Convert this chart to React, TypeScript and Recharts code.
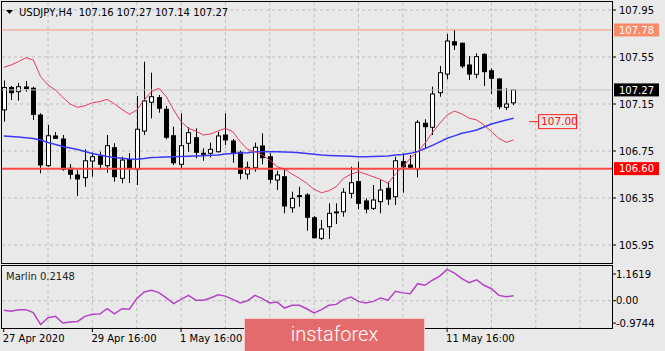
import React from 'react';
import { ComposedChart, Bar, Line, XAxis, YAxis, CartesianGrid, ReferenceLine } from 'recharts';

const opens = [107.10, 107.29, 107.255, 107.295, 107.284, 107.056, 106.625, 106.878, 106.852, 106.603,
  106.546, 106.523, 106.665, 106.707, 106.625, 106.778, 106.518, 106.679, 106.594, 106.920,
  107.165, 107.204, 107.105, 106.880, 106.637, 106.816, 106.863, 106.731, 106.731, 106.744,
  106.886, 106.835, 106.739, 106.554, 106.608, 106.793, 106.701, 106.503, 106.531, 106.267,
  106.370, 106.376, 106.182, 106.007, 106.106, 106.228, 106.233, 106.390, 106.489, 106.325,
  106.262, 106.319, 106.433, 106.361, 106.659, 106.631, 106.597, 106.986, 106.952, 107.246,
  107.405, 107.680, 107.667, 107.482, 107.403, 107.573, 107.433, 107.363, 107.122, 107.16];
const highs = [107.35, 107.303, 107.329, 107.346, 107.297, 107.071, 106.971, 106.912, 106.886, 106.639,
  106.588, 106.764, 106.736, 106.744, 106.886, 106.816, 106.701, 106.733, 107.218, 107.510,
  107.416, 107.227, 107.133, 106.957, 107.071, 106.952, 106.943, 106.773, 106.821, 106.914,
  107.071, 106.852, 106.753, 106.659, 106.821, 106.901, 106.731, 106.582, 106.603, 106.404,
  106.446, 106.390, 106.197, 106.163, 106.305, 106.305, 106.433, 106.616, 106.659, 106.348,
  106.461, 106.503, 106.489, 106.701, 106.731, 106.716, 107.014, 107.020, 107.297, 107.474,
  107.746, 107.78, 107.672, 107.558, 107.581, 107.581, 107.454, 107.369, 107.284, 107.27];
const lows = [107.00, 107.184, 107.178, 107.255, 107.014, 106.560, 106.616, 106.852, 106.582, 106.509,
  106.367, 106.446, 106.531, 106.588, 106.565, 106.489, 106.475, 106.478, 106.461, 106.886,
  107.028, 107.076, 106.850, 106.631, 106.603, 106.744, 106.688, 106.667, 106.696, 106.736,
  106.801, 106.650, 106.509, 106.509, 106.574, 106.637, 106.475, 106.418, 106.220, 106.225,
  106.276, 106.072, 106.007, 105.993, 106.001, 106.129, 106.191, 106.348, 106.254, 106.220,
  106.248, 106.220, 106.290, 106.290, 106.395, 106.603, 106.526, 106.773, 106.886, 107.212,
  107.360, 107.610, 107.454, 107.354, 107.369, 107.303, 107.235, 107.105, 107.099, 107.14];
const closes = [107.29, 107.246, 107.297, 107.282, 107.062, 106.631, 106.880, 106.858, 106.594, 106.552,
  106.512, 106.667, 106.701, 106.637, 106.795, 106.531, 106.673, 106.603, 106.935, 107.176,
  107.212, 107.114, 106.867, 106.650, 106.795, 106.906, 106.739, 106.726, 106.764, 106.878,
  106.844, 106.736, 106.560, 106.611, 106.782, 106.693, 106.509, 106.546, 106.282, 106.347,
  106.366, 106.186, 106.012, 106.086, 106.220, 106.232, 106.399, 106.480, 106.305, 106.256,
  106.333, 106.418, 106.341, 106.667, 106.616, 106.611, 106.994, 106.957, 107.235, 107.416,
  107.686, 107.652, 107.473, 107.405, 107.553, 107.425, 107.369, 107.127, 107.150, 107.27];
const maFast = [107.462, 107.482, 107.510, 107.544, 107.525, 107.382, 107.312, 107.269, 107.207, 107.150,
  107.122, 107.135, 107.161, 107.170, 107.190, 107.150, 107.105, 107.062, 107.099, 107.184,
  107.255, 107.284, 107.212, 107.099, 106.999, 106.943, 106.920, 106.886, 106.895, 106.920,
  106.943, 106.914, 106.829, 106.764, 106.744, 106.716, 106.673, 106.616, 106.597, 106.554,
  106.518, 106.475, 106.424, 106.395, 106.412, 106.446, 106.518, 106.554, 106.574, 106.554,
  106.531, 106.509, 106.475, 106.554, 106.616, 106.688, 106.744, 106.816, 106.906, 106.986,
  107.056, 107.090, 107.065, 107.028, 107.014, 106.971, 106.914, 106.858, 106.824, 106.844];
const maSlow = [106.878, 106.873, 106.869, 106.863, 106.856, 106.844, 106.822, 106.805, 106.788, 106.776,
  106.763, 106.746, 106.729, 106.716, 106.703, 106.695, 106.688, 106.682, 106.680, 106.686,
  106.695, 106.696, 106.699, 106.701, 106.703, 106.705, 106.707, 106.710, 106.713, 106.716,
  106.724, 106.729, 106.733, 106.736, 106.743, 106.744, 106.744, 106.744, 106.742, 106.739,
  106.736, 106.729, 106.722, 106.716, 106.712, 106.709, 106.707, 106.705, 106.701, 106.701,
  106.703, 106.706, 106.707, 106.716, 106.720, 106.730, 106.746, 106.771, 106.798, 106.828,
  106.858, 106.879, 106.901, 106.914, 106.929, 106.954, 106.980, 106.997, 107.014, 107.028];
const marlin = [-0.42, -0.46, -0.39, -0.39, -0.52, -1.04, -0.74, -0.68, -0.97, -0.93,
  -0.90, -0.68, -0.59, -0.58, -0.35, -0.57, -0.35, -0.37, 0.09, 0.38,
  0.45, 0.35, 0.12, -0.13, 0.06, 0.23, 0.02, 0.02, 0.12, 0.26,
  0.20, 0.06, -0.10, 0.0, 0.23, 0.09, -0.10, -0.06, -0.32, -0.20,
  -0.20, -0.35, -0.53, -0.39, -0.20, -0.16, 0.06, 0.16, -0.03, -0.10,
  -0.03, 0.12, 0.02, 0.41, 0.34, 0.30, 0.74, 0.67, 0.89, 1.07,
  1.36, 1.20, 0.96, 0.78, 0.91, 0.67, 0.52, 0.23, 0.17, 0.2148];

const priceTicks = [105.95, 106.35, 106.75, 107.15, 107.55, 107.95];
const marlinTicks = [-0.9744, 0, 1.1619];
const gridIdx = [6, 12, 18, 24, 30, 36, 42, 48, 54, 60, 66, 72, 78];
const timeTickIdx = [0, 12, 24, 60];
const timeLabels = ['27 Apr 2020', '29 Apr 16:00', '1 May 16:00', '11 May 16:00'];
const levelHigh = 107.78;
const levelLow = 106.60;
const bidPrice = 107.27;
const targetPrice = 107.00;
const targetFrom = 71.08;
const targetTo = 72.3;
const symbolTitle = 'USDJPY,H4  107.16 107.27 107.14 107.27';
const marlinTitle = 'Marlin 0.2148';

const xDomain: [number, number] = [-0.23, 82.31];
const FONT = 'DejaVu Sans';

const rows = opens.map((o, i) => ({
  i,
  open: o,
  high: highs[i],
  low: lows[i],
  close: closes[i],
  range: [lows[i], highs[i]],
  maFast: maFast[i],
  maSlow: maSlow[i],
  marlin: marlin[i],
}));

const Candle = (props: any) => {
  const { x, y, width, height, payload } = props;
  if (x == null || y == null || !payload) return null;
  const cx = Math.round(x + width / 2) + 0.5;
  const top = Math.min(y, y + height);
  const h = Math.abs(height);
  const span = payload.high - payload.low;
  const k = span > 0 ? h / span : 0;
  const yO = top + (payload.high - payload.open) * k;
  const yC = top + (payload.high - payload.close) * k;
  const bTop = Math.min(yO, yC);
  const bH = Math.max(Math.abs(yO - yC), 1);
  const up = payload.close >= payload.open;
  return (
    <g>
      <line x1={cx} x2={cx} y1={top} y2={top + h} stroke="#000" strokeWidth={1} />
      <rect x={cx - 2} y={bTop} width={4} height={bH} fill={up ? '#fff' : '#000'} stroke="#000" strokeWidth={1} />
    </g>
  );
};

const levelShape = (lineColor: string, lineWidth: number, tagBg: string, tag: string) => (p: any) => {
  const { x1, x2, y1 } = p;
  if (x1 == null) return null;
  const left = Math.min(x1, x2);
  const right = Math.max(x1, x2);
  return (
    <g>
      <line x1={left} x2={right} y1={y1} y2={y1} stroke={lineColor} strokeWidth={lineWidth} />
      <rect x={right + 2} y={y1 - 6.5} width={45} height={13} fill={tagBg} />
      <text x={right + 7} y={y1 + 3.6} fill="#fff" fontSize={10} fontFamily={FONT}>{tag}</text>
    </g>
  );
};

const calloutShape = (p: any) => {
  const { x1, x2, y1 } = p;
  if (x1 == null) return null;
  const left = Math.min(x1, x2);
  const right = Math.max(x1, x2);
  return (
    <g>
      <line x1={left} x2={right} y1={y1} y2={y1} stroke="#ff2020" strokeWidth={1} />
      <rect x={right + 0.5} y={y1 - 7} width={38} height={14} fill="none" stroke="#ff2020" strokeWidth={1} />
      <text x={right + 3} y={y1 + 3.8} fill="#ff1010" fontSize={10.5} fontFamily={FONT}>{targetPrice.toFixed(2)}</text>
    </g>
  );
};

const TimeTick = (props: any) => {
  const { x, y, payload } = props;
  const idx = timeTickIdx.indexOf(payload.value);
  if (idx < 0) return null;
  return (
    <text x={x - 1} y={y} dy="0.71em" textAnchor="start" fontSize={10} fontFamily={FONT} fill="#000">
      {timeLabels[idx]}
    </text>
  );
};

export default function App() {
  return (
    <div style={{ position: 'absolute', left: 0, top: 0, width: 665, height: 351, background: '#e9e9e9', overflow: 'hidden' }}>
      <div style={{ position: 'absolute', left: 0, top: 0 }}>
        <ComposedChart width={665} height={265} data={rows} margin={{ top: 2, right: 0, bottom: 2, left: 2 }}>
          <CartesianGrid stroke="#bcbcbc" strokeDasharray="3 3" horizontalValues={priceTicks} verticalValues={gridIdx} />
          <XAxis type="number" dataKey="i" domain={xDomain} allowDataOverflow ticks={gridIdx} hide />
          <YAxis
            orientation="right"
            width={53}
            domain={[105.797, 108.018]}
            allowDataOverflow
            ticks={priceTicks}
            interval={0}
            tickFormatter={(v: number) => v.toFixed(2)}
            tickSize={4}
            tickMargin={3}
            axisLine={false}
            tickLine={{ stroke: '#000' }}
            tick={{ fontSize: 10, fill: '#000', fontFamily: FONT }}
          />
          <ReferenceLine y={bidPrice} stroke="#c4c4c4" shape={levelShape('#c4c4c4', 1, '#000', bidPrice.toFixed(2))} />
          <ReferenceLine y={levelHigh} stroke="#f6967c" shape={levelShape('#f6967c', 1, '#fa8a6a', levelHigh.toFixed(2))} />
          <ReferenceLine y={levelLow} stroke="#ff4040" shape={levelShape('#ff4848', 2, '#ff0000', levelLow.toFixed(2))} />
          <Bar dataKey="range" shape={Candle} barSize={5} isAnimationActive={false} />
          <Line type="linear" dataKey="maSlow" stroke="#3a3af5" strokeWidth={1.5} dot={false} isAnimationActive={false} />
          <Line type="linear" dataKey="maFast" stroke="#e63c5e" strokeWidth={1} dot={false} isAnimationActive={false} />
          <ReferenceLine
            segment={[{ x: targetFrom, y: targetPrice }, { x: targetTo, y: targetPrice }]}
            stroke="#ff2020"
            shape={calloutShape}
          />
        </ComposedChart>
      </div>
      <div style={{ position: 'absolute', left: 0, top: 0 }}>
        <ComposedChart width={665} height={351} data={rows} margin={{ top: 266, right: 0, bottom: 3, left: 2 }}>
          <CartesianGrid stroke="#bcbcbc" strokeDasharray="3 3" horizontalValues={[0]} verticalValues={gridIdx} />
          <XAxis
            type="number"
            dataKey="i"
            domain={xDomain}
            allowDataOverflow
            ticks={timeTickIdx}
            interval={0}
            height={20}
            tickSize={4}
            tickMargin={3}
            axisLine={false}
            tickLine={{ stroke: '#000' }}
            tick={TimeTick}
          />
          <YAxis
            orientation="right"
            width={53}
            domain={[-1.187, 1.509]}
            allowDataOverflow
            ticks={marlinTicks}
            interval={0}
            tickFormatter={(v: number) => (v === 0 ? '0.00' : v.toFixed(4))}
            tickSize={4}
            tickMargin={0}
            axisLine={false}
            tickLine={{ stroke: '#000' }}
            tick={{ fontSize: 10, fill: '#000', fontFamily: FONT }}
          />
          <Line type="linear" dataKey="marlin" stroke="#b444c4" strokeWidth={1.5} dot={false} isAnimationActive={false} />
        </ComposedChart>
      </div>
      <svg width={665} height={351} style={{ position: 'absolute', left: 0, top: 0, pointerEvents: 'none' }}>
        <rect x={1.5} y={1.5} width={611} height={262} fill="none" stroke="#000" strokeWidth={1} />
        <rect x={1.5} y={265.5} width={611} height={63} fill="none" stroke="#000" strokeWidth={1} />
        <polygon points="6,10 13,10 9.5,14" fill="#000" />
        <text x={19} y={16} fontSize={10} fontFamily={FONT} fill="#000" style={{ whiteSpace: 'pre' }}>{symbolTitle}</text>
        <text x={6} y={280} fontSize={10} fontFamily={FONT} fill="#222">{marlinTitle}</text>
        <rect x={244.5} y={318.5} width={180} height={40} fill="#e36b6b" stroke="#f6caca" strokeWidth={1} />
        <text x={334.5} y={341} textAnchor="middle" fontSize={20} fontWeight={300} fontFamily="Roboto" fill="#fff">instaforex</text>
      </svg>
    </div>
  );
}
